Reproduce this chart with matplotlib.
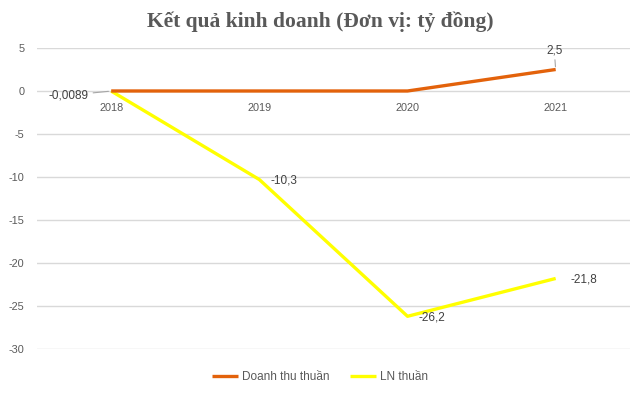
import matplotlib.pyplot as plt

years = ["2018", "2019", "2020", "2021"]
doanh_thu = [0.0, 0.0, 0.0, 2.5]
ln_thuan = [-0.0089, -10.3, -26.2, -21.8]
ln_labels = ["-0,0089", "-10,3", "-26,2", "-21,8"]
dt_label = "2,5"
yticks = [5, 0, -5, -10, -15, -20, -25, -30]

ORANGE = "#E3620B"
YELLOW = "#FFFF00"
GREY = "#595959"
LABEL = "#404040"

plt.rcParams["font.family"] = ["Liberation Sans", "DejaVu Sans"]

fig = plt.figure(figsize=(6.4, 3.95), dpi=100)
ax = fig.add_axes([0.058, 0.1165, 0.926, 0.762])

x = list(range(len(years)))
ax.plot(x, doanh_thu, color=ORANGE, lw=2.4, solid_capstyle="butt", zorder=3,
        label="Doanh thu thuần")
ax.plot(x, ln_thuan, color=YELLOW, lw=2.4, solid_capstyle="butt", zorder=2,
        label="LN thuần")

ax.set_xlim(-0.5, 3.5)
ax.set_ylim(-30, 5)
ax.set_yticks(yticks)
ax.set_yticklabels([str(t) for t in yticks])
ax.yaxis.grid(True, color="#D9D9D9", lw=1)
ax.set_axisbelow(True)
ax.tick_params(axis="y", length=0, labelsize=7.8, labelcolor=GREY, pad=9)
ax.set_xticks([])
for s in ax.spines.values():
    s.set_visible(False)

# category labels sit just below the zero line
for i, yr in enumerate(years):
    ax.annotate(yr, (i, 0), xytext=(0, -12), textcoords="offset points",
                ha="center", va="center", fontsize=7.8, color=GREY)

# data labels
ax.annotate(ln_labels[0], (0, ln_thuan[0]), xytext=(-16, -3),
            textcoords="offset points", ha="right", va="center",
            fontsize=8.5, color=LABEL,
            arrowprops=dict(arrowstyle="-", color="#A6A6A6", lw=0.8,
                            shrinkA=1, shrinkB=2))
ax.annotate(ln_labels[1], (1, ln_thuan[1]), xytext=(8, -1),
            textcoords="offset points", ha="left", va="center",
            fontsize=8.5, color=LABEL)
ax.annotate(ln_labels[2], (2, ln_thuan[2]), xytext=(8, -1),
            textcoords="offset points", ha="left", va="center",
            fontsize=8.5, color=LABEL)
ax.annotate(ln_labels[3], (3, ln_thuan[3]), xytext=(11, -1),
            textcoords="offset points", ha="left", va="center",
            fontsize=8.5, color=LABEL)
ax.annotate(dt_label, (3, doanh_thu[3]), xytext=(-1, 9),
            textcoords="offset points", ha="center", va="bottom",
            fontsize=8.5, color=LABEL,
            arrowprops=dict(arrowstyle="-", color="#A6A6A6", lw=0.8,
                            shrinkA=0, shrinkB=2))

fig.suptitle("Kết quả kinh doanh (Đơn vị: tỷ đồng)", x=0.5, y=0.972,
             fontsize=15.5, fontweight="bold", color=GREY,
             family=["Liberation Serif", "DejaVu Serif"])

leg = fig.legend(loc="center", bbox_to_anchor=(0.5, 0.045), ncol=2,
                 frameon=False, fontsize=8.5, handlelength=2.2,
                 columnspacing=1.8, handletextpad=0.3)
for t in leg.get_texts():
    t.set_color(GREY)

fig.savefig("out.png", dpi=100)
